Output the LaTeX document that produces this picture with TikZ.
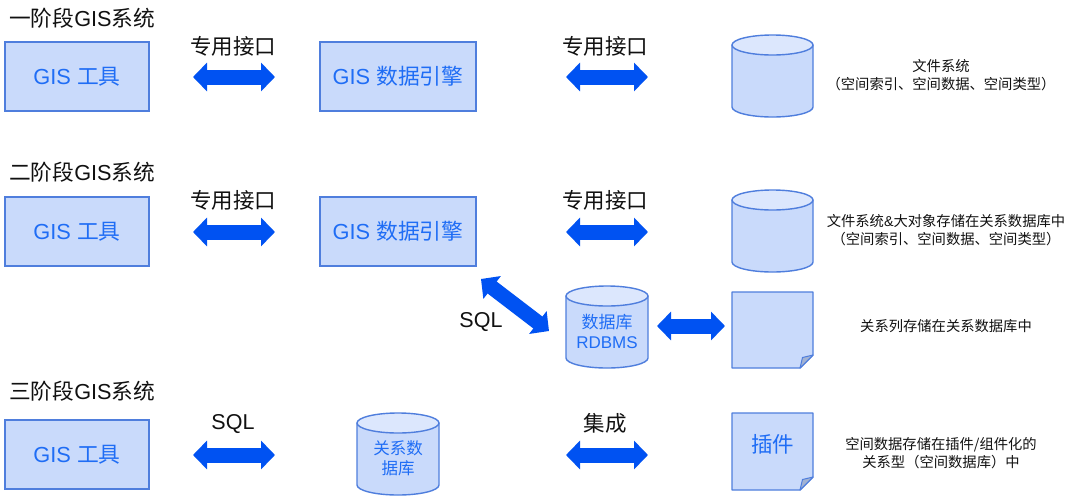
\documentclass[tikz,border=0pt]{standalone}
\usepackage{fontspec}
\setmainfont{Liberation Sans}
\newfontfamily\cjkf{Noto Sans CJK SC}
\newcommand{\cj}[1]{{\cjkf #1}}
\usetikzlibrary{arrows.meta}
\definecolor{bfill}{HTML}{C9DAFB}
\definecolor{bline}{HTML}{4F7EDD}
\definecolor{btop}{HTML}{DCE7FD}
\definecolor{btext}{HTML}{1F6DF5}
\definecolor{barrow}{HTML}{0052F2}
\definecolor{bfold}{HTML}{A3B3D2}
\definecolor{ink}{HTML}{111111}
\tikzset{
  x=1pt,y=-1pt,
  boxnode/.style={draw=bline,fill=bfill,line width=1.2pt,minimum height=69pt,inner sep=0pt,text=btext,font=\fontsize{21.8}{26}\selectfont},
  shapeline/.style={draw=bline,line width=1.4pt,line join=round},
  inner/.style={text=btext,align=center,inner sep=0pt},
  blockarrow/.style={draw=barrow,line width=15pt,{Triangle[length=14pt,width=28pt,fill=barrow]}-{Triangle[length=14pt,width=28pt,fill=barrow]}},
  heading/.style={anchor=west,text=ink,inner sep=0pt,font=\fontsize{21.7}{26}\selectfont},
  label/.style={text=ink,inner sep=0pt,font=\fontsize{21.5}{26}\selectfont},
  note/.style={text=ink,inner sep=0pt,align=center,font=\fontsize{14.3}{18}\selectfont},
}
% name, left, top, right, bottom, font, text
\newcommand{\cylshape}[7]{
  \pgfmathsetmacro{\rx}{(#4-#2)/2}
  \pgfmathsetmacro{\midx}{(#4+#2)/2}
  \path[shapeline,fill=bfill] (#2,#3+10) -- (#2,#5-10) arc[start angle=180,end angle=360,x radius=\rx pt,y radius=10pt] -- (#4,#3+10) -- cycle;
  \path[shapeline,fill=btop] (\midx,#3+10) ellipse[x radius=\rx pt,y radius=10pt];
  \node[inner,font=#6,minimum width=\rx pt] (#1) at (\midx,{(#3+#5)/2+4.5}) {#7};
}
\newcommand{\docshape}[7]{
  \path[shapeline,fill=bfill] (#2,#3) -- (#4,#3) -- (#4,#5-13) -- (#4-13,#5) -- (#2,#5) -- cycle;
  \path[shapeline,fill=bfold,line width=1pt] (#4,#5-13) -- (#4-13,#5) -- (#4-10.5,#5-10.5) -- cycle;
  \node[inner,font=#6] (#1) at ({(#2+#4)/2},{(#3+#5)/2-7}) {#7};
}
\begin{document}
\begin{tikzpicture}
\useasboundingbox (0,0) rectangle (1080,496);
\fill[white] (0,0) rectangle (1080,496);

% headings
\node[heading] (h1) at (9,18) {\cj{一阶段}GIS\cj{系统}};
\node[heading] (h2) at (9,172) {\cj{二阶段}GIS\cj{系统}};
\node[heading] (h3) at (9,391) {\cj{三阶段}GIS\cj{系统}};

% row 1
\node[boxnode,minimum width=144pt] (t1) at (77,76.5) {GIS \cj{工具}};
\node[boxnode,minimum width=156pt] (e1) at (398,76.5) {GIS \cj{数据引擎}};
\cylshape{c1}{732}{35}{813}{117}{\normalsize}{}
\node[note] (n1) at (941,75) {\cj{文件系统}\\\cj{（空间索引、空间数据、空间类型）}};
\node[label] (l1) at (233,46) {\cj{专用接口}};
\node[label] (l2) at (605,46) {\cj{专用接口}};

% row 2
\node[boxnode,minimum width=144pt] (t2) at (77,231.5) {GIS \cj{工具}};
\node[boxnode,minimum width=156pt] (e2) at (398,231.5) {GIS \cj{数据引擎}};
\cylshape{c2}{732}{190}{813}{272}{\normalsize}{}
\node[note] (n2) at (946,230) {\cj{文件系统}\&\cj{大对象存储在关系数据库中}\\\cj{（空间索引、空间数据、空间类型）}};
\node[label] (l3) at (233,200) {\cj{专用接口}};
\node[label] (l4) at (605,200) {\cj{专用接口}};

% relational row
\cylshape{db}{566}{286}{648}{368}{\fontsize{17}{20}\selectfont}{\cj{数据库}\\RDBMS}
\docshape{d1}{732}{292}{813}{368}{\normalsize}{}
\node[label] (l5) at (481,322) {SQL};
\node[note] (n3) at (946,326) {\cj{关系列存储在关系数据库中}};

% row 3
\node[boxnode,minimum width=144pt] (t3) at (77,454.5) {GIS \cj{工具}};
\cylshape{c3}{357}{413}{439}{495}{\fontsize{16.5}{20}\selectfont}{\cj{关系数}\\\cj{据库}}
\docshape{d2}{732}{413}{813}{490}{\fontsize{21.5}{26}\selectfont}{\cj{插件}}
\node[label] (l6) at (233,424) {SQL};
\node[label] (l7) at (605,423) {\cj{集成}};
\node[note] (n4) at (941,453) {\cj{空间数据存储在插件/组件化的}\\\cj{关系型（空间数据库）中}};

% connector ends
\coordinate (a1l) at (193,77); \coordinate (a1r) at (275,77);
\coordinate (a2l) at (566,77); \coordinate (a2r) at (648,77);
\coordinate (a3l) at (193,232); \coordinate (a3r) at (275,232);
\coordinate (a4l) at (566,232); \coordinate (a4r) at (648,232);
\coordinate (a5l) at (481,279); \coordinate (a5r) at (549,331);
\coordinate (a6l) at (657,326); \coordinate (a6r) at (725,326);
\coordinate (a7l) at (193,455); \coordinate (a7r) at (275,455);
\coordinate (a8l) at (566,455); \coordinate (a8r) at (648,455);

\foreach \a/\b in {a1l/a1r,a2l/a2r,a3l/a3r,a4l/a4r,a5l/a5r,a6l/a6r,a7l/a7r,a8l/a8r}
  \draw[blockarrow] (\a) -- (\b);
\end{tikzpicture}
\end{document}
